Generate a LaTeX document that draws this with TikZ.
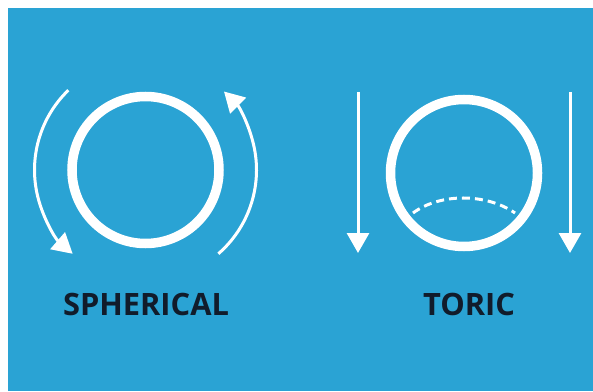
\documentclass[tikz,border=0pt]{standalone}
\usepackage{fontspec}
\setsansfont{Open Sans}
\usepackage{tikz}
\usetikzlibrary{arrows.meta,positioning,calc}
\definecolor{skyblue}{RGB}{42,163,212}
\definecolor{inkblue}{RGB}{17,28,43}

\begin{document}
\begin{tikzpicture}[
    x=1pt, y=1pt,
    lens/.style={draw=white, line width=9.5pt, circle, minimum size=147pt, inner sep=0pt},
    flow/.style={draw=white, line width=3pt, -{Triangle[length=20pt, width=22pt]}},
    caption/.style={text=inkblue, font=\sffamily\bfseries\fontsize{30.8}{36}\selectfont, anchor=base, inner sep=0pt}
]

% background
\fill[white] (0,0) rectangle (593,391);
\fill[skyblue] (8,0) rectangle (593,383);
\useasboundingbox (0,0) rectangle (593,391);

\node[lens] (sphLens) at (145.5,221) {};
\node[lens] (toricLens) at (464,218) {};

% rotation around the spherical lens
\draw[flow] ([shift={(134:111)}]sphLens.center) arc[start angle=134, end angle=229, radius=111];
\draw[flow] ([shift={(-49:111)}]sphLens.center) arc[start angle=-49, end angle=45, radius=111];

% toric lens: fixed axis
\coordinate (toricTopL) at (358,299);
\coordinate (toricBotL) at (358,138);
\coordinate (toricTopR) at (570,299);
\coordinate (toricBotR) at (570,138);
\draw[flow] (toricTopL) -- (toricBotL);
\draw[flow] (toricTopR) -- (toricBotR);
\draw[white, line width=3pt, dash pattern=on 8pt off 5pt]
    (413,178) .. controls (440,198) and (486,198) .. (515,178);

\node[caption] (sphLabel) at (146,76) {SPHERICAL};
\node[caption] (toricLabel) at (469,76) {TORIC};

\end{tikzpicture}
\end{document}
